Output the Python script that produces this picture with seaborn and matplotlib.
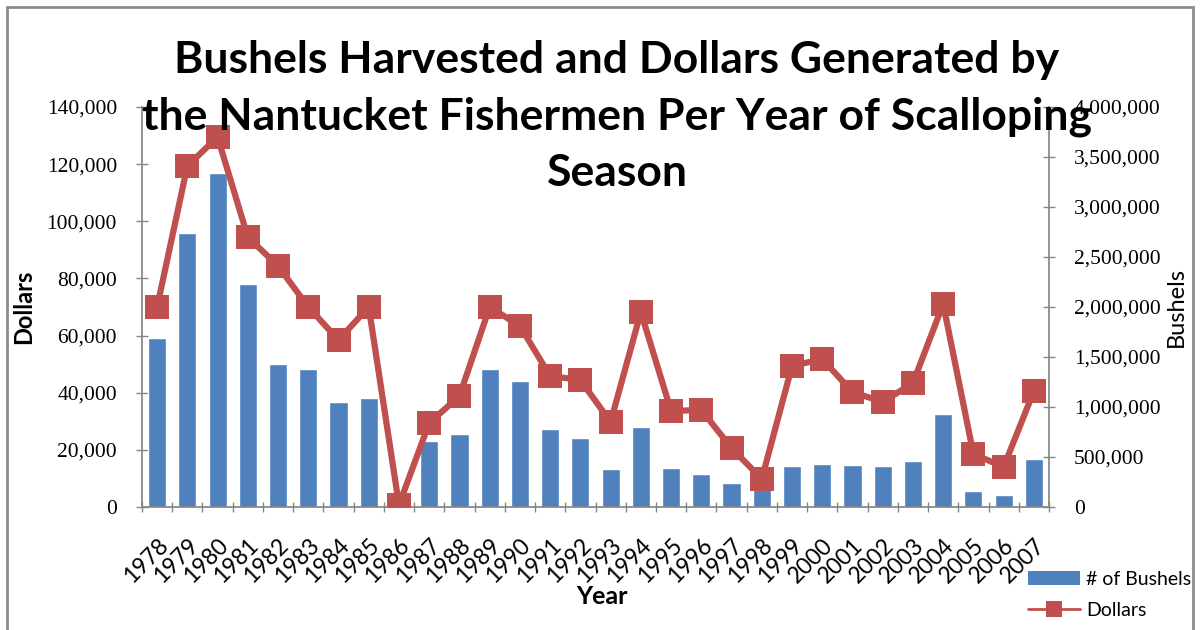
import matplotlib
matplotlib.use("Agg")

import matplotlib.pyplot as plt
import numpy as np
import seaborn as sns
from matplotlib.lines import Line2D
from matplotlib.patches import Patch, Rectangle
from matplotlib.ticker import FuncFormatter

years = [str(y) for y in range(1978, 2008)]
bushels = [
    59000, 96000, 117000, 78000, 50000, 48300, 36700, 38000, 0, 23000,
    25500, 48300, 44100, 27200, 24100, 13300, 28000, 13800, 11500, 8300,
    6500, 14300, 15000, 14700, 14300, 16000, 32500, 5600, 4200, 16800,
]
dollars = [
    2000000, 3410000, 3700000, 2700000, 2410000, 2000000, 1670000, 2000000, 20000, 840000,
    1110000, 2000000, 1810000, 1310000, 1270000, 850000, 1950000, 960000, 970000, 590000,
    280000, 1410000, 1480000, 1150000, 1050000, 1240000, 2030000, 530000, 400000, 1160000,
]

BLUE = "#4F81BD"
RED = "#C0504D"
AXIS_GRAY = "#868686"

sns.set_theme(style="white")
plt.rcParams["font.family"] = ["Lato", "DejaVu Sans"]
plt.rcParams["text.color"] = "black"
plt.rcParams["axes.labelcolor"] = "black"

fig = plt.figure(figsize=(12.01, 6.30), dpi=100)
ax = fig.add_axes([142 / 1201, 123 / 630, 907 / 1201, 400 / 630])

sns.barplot(x=years, y=bushels, color=BLUE, width=0.6, saturation=1, ax=ax)
ax.set_ylim(0, 140000)
ax.set_xlim(-0.5, len(years) - 0.5)

ax2 = ax.twinx()
sns.lineplot(
    x=np.arange(len(years)), y=dollars, color=RED, linewidth=4.5,
    marker="s", markersize=17, markeredgewidth=0, ax=ax2,
)
ax2.set_ylim(0, 4000000)
ax2.set_xlim(-0.5, len(years) - 0.5)

comma = FuncFormatter(lambda v, _: f"{int(v):,}")
ax.yaxis.set_major_formatter(comma)
ax2.yaxis.set_major_formatter(comma)
ax.set_yticks(np.arange(0, 140001, 20000))
ax2.set_yticks(np.arange(0, 4000001, 500000))

for lab in ax.get_yticklabels() + ax2.get_yticklabels():
    lab.set_fontfamily("Liberation Serif")
    lab.set_fontsize(15.5)

# category-boundary tick marks on the x axis, labels at the centres
ax.set_xticks(np.arange(len(years)))
ax.set_xticklabels(years, rotation=45, ha="right", va="top",
                   rotation_mode="anchor", fontsize=16.5)
ax.set_xticks(np.arange(-0.5, len(years)), minor=True)
ax.tick_params(axis="x", which="major", length=0, pad=20, labelcolor="black")
ax.tick_params(axis="x", which="minor", length=7, color=AXIS_GRAY, width=1,
               direction="inout", bottom=True)
ax.tick_params(axis="y", length=8, color=AXIS_GRAY, width=1, direction="inout",
               left=True, pad=14, labelcolor="black")
ax2.tick_params(axis="y", length=8, color=AXIS_GRAY, width=1, direction="inout",
                right=True, pad=14, labelcolor="black")

for a in (ax, ax2):
    a.spines["top"].set_visible(False)
    for side in ("left", "right", "bottom"):
        a.spines[side].set_color(AXIS_GRAY)
ax.spines["right"].set_visible(False)
ax2.spines["left"].set_visible(False)
ax2.spines["bottom"].set_visible(False)

ax.set_ylabel("Dollars", fontsize=17, fontweight="bold", labelpad=8)
ax2.set_ylabel("Bushels", fontsize=17, labelpad=4)
ax.set_xlabel("Year", fontsize=18, fontweight="bold")
ax.xaxis.set_label_coords(460 / 907, -78 / 400)
ax2.grid(False)
ax.grid(False)

fig.text(
    617 / 1201, 1 - 40 / 630,
    "Bushels Harvested and Dollars Generated by\n"
    "the Nantucket Fishermen Per Year of Scalloping\nSeason",
    ha="center", va="top", fontsize=32, fontweight="bold", linespacing=1.5,
)

handles = [
    Patch(facecolor=BLUE, edgecolor="none", label="# of Bushels"),
    Line2D([0], [0], color=RED, linewidth=2, marker="s", markersize=11,
           markeredgewidth=0, label="Dollars"),
]
fig.legend(handles=handles, loc="center left",
           bbox_to_anchor=(1020 / 1201, 1 - 595 / 630), frameon=False,
           fontsize=14, handlelength=2.7, handleheight=0.8,
           labelspacing=0.75, handletextpad=0.3, borderaxespad=0)

fig.patches.append(Rectangle((7 / 1201, -0.05), 1186 / 1201, 1 - 7 / 630 + 0.05,
                             transform=fig.transFigure, fill=False,
                             edgecolor="#8c8c8c", linewidth=2))

fig.savefig("out.png", dpi=100)
plt.close(fig)
